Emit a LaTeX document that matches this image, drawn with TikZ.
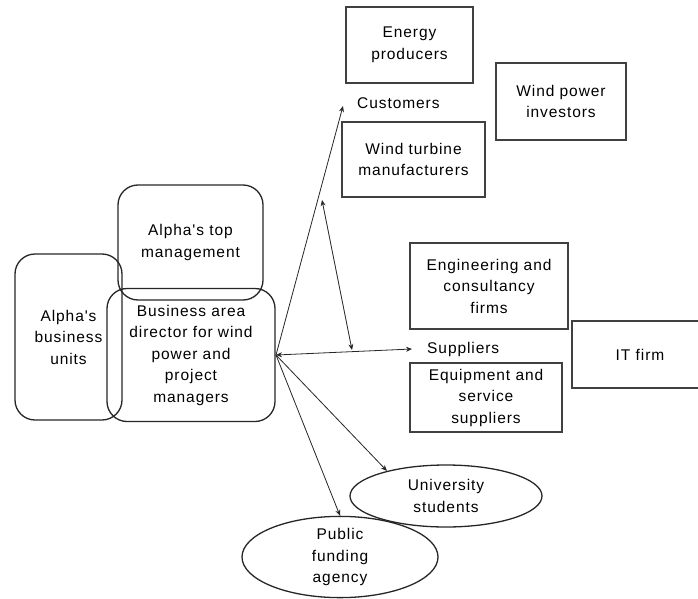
\documentclass[tikz,border=0pt]{standalone}
\usepackage{fontspec}
\newfontfamily\lsfont{Liberation Sans}[LetterSpace=6]
\usetikzlibrary{shapes.geometric,arrows.meta}
\begin{document}
\begin{tikzpicture}[x=1pt,y=-1pt,
  txt/.style={font=\lsfont\fontsize{15.5}{21.5}\selectfont, align=center, text=black},
  rbox/.style={txt, draw=black!85, line width=1.3pt, rounded corners=20pt, inner sep=0pt},
  sbox/.style={txt, draw=black!75, line width=1.6pt, inner sep=0pt},
  ell/.style={txt, draw=black!85, line width=1.3pt, ellipse, inner sep=0pt},
  lbl/.style={txt, inner sep=0pt, anchor=west},
  con/.style={line width=0.8pt, draw=black!85, -{Stealth[length=6pt,width=5pt]}},
  dcon/.style={line width=0.8pt, draw=black!85, {Stealth[length=6pt,width=5pt]}-{Stealth[length=6pt,width=5pt]}}]
\useasboundingbox (0,0) rectangle (698,599);
\clip (0,0) rectangle (698,599);
% rounded boxes
\node[rbox, minimum width=107pt, minimum height=166pt] (bu) at (68.5,337) {Alpha's\\business\\units};
\node[rbox, minimum width=145pt, minimum height=115pt] (top) at (190.5,242.5) {Alpha's top\\management};
\node[rbox, minimum width=168pt, minimum height=133pt] (bad) at (191,355) {Business area\\director for wind\\power and\\project\\managers};
% rectangles
\node[sbox, minimum width=127pt, minimum height=76pt] (ep) at (409.5,45) {Energy\\producers};
\node[sbox, minimum width=130pt, minimum height=77pt] (wpi) at (561,101.5) {Wind power\\investors};
\node[sbox, minimum width=143pt, minimum height=75pt] (wtm) at (413.5,159.5) {Wind turbine\\manufacturers};
\node[sbox, minimum width=158pt, minimum height=86pt] (ecf) at (489,286) {Engineering and\\consultancy\\firms};
\node[sbox, minimum width=136pt, minimum height=67pt] (it) at (640,354.5) {IT firm};
\node[sbox, minimum width=152pt, minimum height=69pt] (ess) at (486,397.5) {Equipment and\\service\\suppliers};
% ellipses
\node[ell, minimum width=192pt, minimum height=62pt] (us) at (446,496) {University\\students};
\node[ell, minimum width=196pt, minimum height=80pt] (pfa) at (340,557) {Public\\funding\\agency};
% labels
\node[lbl] (cust) at (357,103) {Customers};
\node[lbl] (supp) at (427,349) {Suppliers};
% connectors
\coordinate (hub) at (276,355);
\coordinate (custtip) at (343,106);
\coordinate (supptip) at (412,349);
\coordinate (vtop) at (322,200);
\coordinate (vbot) at (352,350);
\draw[con] (hub) -- (custtip);
\draw[dcon] (hub) -- (supptip);
\draw[dcon] (vtop) -- (vbot);
\draw[con] (hub) -- (us.157);
\draw[con] (hub) -- (pfa.north);
\end{tikzpicture}
\end{document}
